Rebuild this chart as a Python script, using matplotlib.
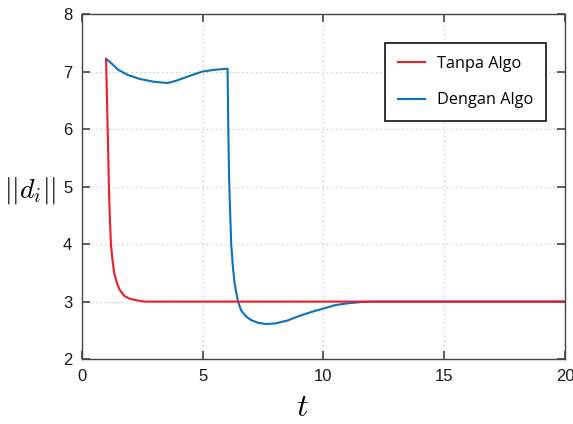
import matplotlib
matplotlib.use("Agg")
import matplotlib.pyplot as plt

# red: without algorithm
t_tanpa = [1.0, 1.06, 1.12, 1.16, 1.2, 1.27, 1.34, 1.45, 1.57, 1.75, 1.98, 2.3, 2.6, 20.0]
d_tanpa = [7.22, 6.1, 4.94, 4.4, 4.0, 3.7, 3.49, 3.32, 3.2, 3.1, 3.05, 3.02, 3.0, 3.0]

# blue: with algorithm
t_dengan = [1.0, 1.2, 1.5, 1.9, 2.4, 3.0, 3.55, 3.9, 4.3, 4.7, 5.0, 5.5, 6.03,
            6.06, 6.09, 6.12, 6.18, 6.25, 6.32, 6.46, 6.6, 6.8, 7.0, 7.3, 7.63,
            8.0, 8.5, 9.0, 9.5, 10.0, 10.5, 11.0, 11.5, 12.0, 13.0, 20.0]
d_dengan = [7.22, 7.15, 7.03, 6.94, 6.87, 6.82, 6.8, 6.84, 6.9, 6.96, 7.0, 7.03, 7.05,
            6.0, 5.2, 4.77, 4.0, 3.6, 3.32, 3.0, 2.84, 2.74, 2.68, 2.63, 2.61,
            2.62, 2.67, 2.75, 2.82, 2.88, 2.94, 2.97, 2.99, 3.0, 3.0, 3.0]

x_ticks = [0, 5, 10, 15, 20]
y_ticks = [2, 3, 4, 5, 6, 7, 8]

plt.rcParams['mathtext.fontset'] = 'cm'

fig = plt.figure(figsize=(5.73, 4.24), dpi=100)
ax = fig.add_axes([0.143, 0.153, 0.843, 0.814])

ax.plot(t_tanpa, d_tanpa, color='#ee1c25', linewidth=1.5, label='Tanpa Algo', zorder=3)
ax.plot(t_dengan, d_dengan, color='#0a72bd', linewidth=1.5, label='Dengan Algo', zorder=2)

ax.set_xlim(0, 20)
ax.set_ylim(2, 8)
ax.set_xticks(x_ticks)
ax.set_yticks(y_ticks)
ax.grid(True, linestyle=(0, (1, 3)), color='#bbbbbb', linewidth=0.8)

for s in ax.spines.values():
    s.set_color('#444444')
    s.set_linewidth(1.0)
ax.tick_params(direction='in', length=6, width=1.2, color='#444444',
               top=True, right=True, labelsize=12, pad=7)
for lab in ax.get_xticklabels() + ax.get_yticklabels():
    lab.set_family('Liberation Sans')
    lab.set_color('#1a1a1a')

ax.set_xlabel('$t$', fontsize=23)
ax.xaxis.set_label_coords(0.457, -0.095)
ax.set_ylabel('$||d_i||$', fontsize=20, rotation=0, va='center', ha='center')
ax.yaxis.set_label_coords(-0.108, 0.49)

leg = ax.legend(loc='upper right', bbox_to_anchor=(0.961, 0.916), borderaxespad=0,
                fancybox=False, edgecolor='#111111', framealpha=1,
                prop={'family': 'Open Sans', 'size': 11.7}, handlelength=1.65,
                borderpad=0.8, labelspacing=1.25, handletextpad=0.75)
leg.get_frame().set_linewidth(1.2)

fig.savefig('out.png', dpi=100)
